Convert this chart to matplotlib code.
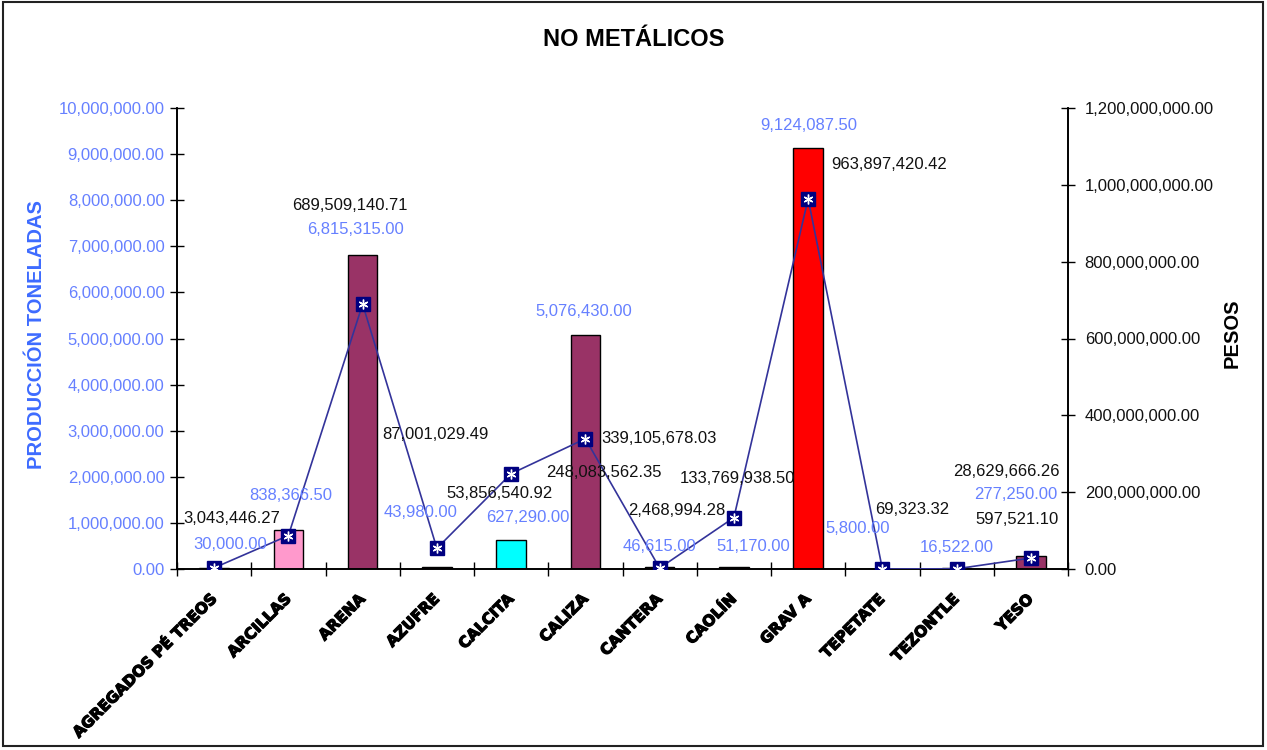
import matplotlib
matplotlib.use("Agg")
import matplotlib.pyplot as plt
import matplotlib.patheffects as pe
from matplotlib.patches import Rectangle
from matplotlib.ticker import FuncFormatter, FixedLocator
import numpy as np

# datos de la grafica
categories = ["AGREGADOS PÉ TREOS", "ARCILLAS", "ARENA", "AZUFRE", "CALCITA", "CALIZA",
              "CANTERA", "CAOLÍN", "GRAV A", "TEPETATE", "TEZONTLE", "YESO"]
toneladas = [30000.00, 838366.50, 6815315.00, 43980.00, 627290.00, 5076430.00,
             46615.00, 51170.00, 9124087.50, 5800.00, 16522.00, 277250.00]
pesos = [3043446.27, 87001029.49, 689509140.71, 53856540.92, 248083562.35, 339105678.03,
         2468994.28, 133769938.50, 963897420.42, 69323.32, 597521.10, 28629666.26]

bar_colors = ["#993366", "#FF99CC", "#993366", "#993366", "#00FFFF", "#993366",
              "#993366", "#993366", "#FF0000", "#993366", "#993366", "#993366"]

# desplazamiento de etiquetas (pixeles), como quedaron en la hoja original
ton_offsets = [(16, 23), (2, 35), (-7, 25), (-16, 54), (17, 23), (-2, 23),
               (0, 20), (19, 20), (1, 23), (-25, 40), (0, 21), (-15, 62)]
peso_offsets = [(18, 49), (147, 101), (-13, 99), (63, 55), (93, 1), (74, 0),
                (17, 58), (4, 39), (81, 34), (30, 59), (60, 49), (-24, 87)]

BLUE_TXT = "#6680FF"
BLUE_LBL = "#3D6BFF"
LINE_C = "#33339A"
plt.rcParams['font.family'] = ['Liberation Sans', 'DejaVu Sans']

fig = plt.figure(figsize=(12.67, 7.5), dpi=100)
ax = fig.add_axes([177/1267, 1-569/750, (1068-177)/1267, (569-108)/750])
ax2 = ax.twinx()

x = np.arange(len(categories))
ax.bar(x, toneladas, width=0.40, color=bar_colors, edgecolor="black", linewidth=1, zorder=2)
ax.set_xlim(-0.5, len(categories)-0.5)
ax.set_ylim(0, 10_000_000)
ax.set_yticks(np.arange(0, 10_000_001, 1_000_000))
ax.yaxis.set_major_formatter(FuncFormatter(lambda v, p: f"{v:,.2f}"))
ax.tick_params(axis="y", direction="inout", length=10, width=1, pad=4,
               labelsize=12, labelcolor=BLUE_TXT)

ax.set_xticks(x)
ax.set_xticklabels(categories, rotation=45, ha="right", va="center",
                   rotation_mode="anchor", fontsize=11, fontweight="bold",
                   family="DejaVu Sans")
ax.tick_params(axis="x", which="major", length=0, pad=20)
ax.xaxis.set_minor_locator(FixedLocator(np.arange(-0.5, len(categories), 1.0)))
ax.tick_params(axis="x", which="minor", direction="inout", length=10, width=1)
for lbl in ax.get_xticklabels():
    lbl.set_path_effects([pe.withStroke(linewidth=0.9, foreground="black")])

ax2.plot(x, pesos, color=LINE_C, linewidth=1.2, zorder=3)
ax2.plot(x, pesos, linestyle="none", marker="s", markersize=10,
         markerfacecolor="#000080", markeredgecolor="#000080", zorder=4)
ax2.plot(x, pesos, linestyle="none", marker=(6, 2, 0), markersize=7,
         markeredgecolor="white", markeredgewidth=1, zorder=5)
ax2.set_ylim(0, 1_200_000_000)
ax2.set_yticks(np.arange(0, 1_200_000_001, 200_000_000))
ax2.yaxis.set_major_formatter(FuncFormatter(lambda v, p: f"{v:,.2f}"))
ax2.tick_params(axis="y", direction="inout", length=10, width=1, pad=7,
                labelsize=12, labelcolor="#111111")

for a in (ax, ax2):
    a.spines["top"].set_visible(False)
    for s in ("left", "right", "bottom"):
        a.spines[s].set_linewidth(1.2)

# etiquetas de datos
for i, v in enumerate(toneladas):
    ax2.annotate(f"{v:,.2f}", xy=(i, v), xycoords=ax.transData,
                 xytext=ton_offsets[i], textcoords="offset pixels",
                 ha="center", va="center", fontsize=12, color=BLUE_TXT, zorder=6)
for i, v in enumerate(pesos):
    ax2.annotate(f"{v:,.2f}", xy=(i, v), xycoords="data",
                 xytext=peso_offsets[i], textcoords="offset pixels",
                 ha="center", va="center", fontsize=12, color="#111111", zorder=6)

fig.text(634/1267, 1-40/750, "NO METÁLICOS", ha="center", va="center",
         fontsize=17, fontweight="bold")
fig.text(37/1267, 1-335/750, "PRODUCCIÓN TONELADAS", rotation=90, ha="center",
         va="center", fontsize=14.5, fontweight="bold", color=BLUE_LBL)
fig.text(1232/1267, 1-333/750, "PESOS", rotation=90, ha="center", va="center",
         fontsize=14.5, fontweight="bold")

fig.patches.append(Rectangle((3/1267, 4/750), 1260/1267, 744/750, transform=fig.transFigure,
                             fill=False, edgecolor="#222222", linewidth=1.5))

fig.savefig("out.png", dpi=100)
